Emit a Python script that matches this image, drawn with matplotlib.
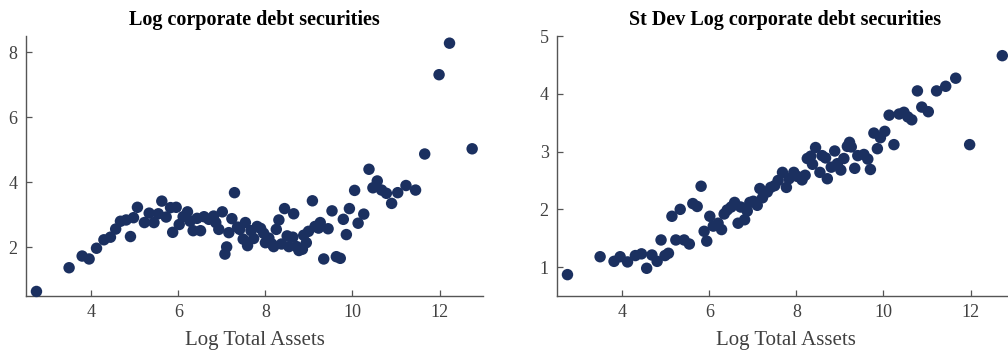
import numpy as np
import matplotlib
matplotlib.use("Agg")
import matplotlib.pyplot as plt

# binned means: log corporate debt securities vs log total assets
x_left = [2.74, 3.49, 3.79, 3.95, 4.12, 4.29, 4.44, 4.56, 4.67, 4.80, 4.90, 4.97,
          5.06, 5.22, 5.33, 5.44, 5.54, 5.62, 5.72, 5.82, 5.87, 5.95, 6.02, 6.11,
          6.21, 6.27, 6.34, 6.43, 6.51, 6.59, 6.70, 6.81, 6.86, 6.93, 7.01, 7.07,
          7.11, 7.16, 7.23, 7.29, 7.36, 7.41, 7.49, 7.54, 7.59, 7.67, 7.73, 7.81,
          7.89, 7.96, 8.00, 8.08, 8.15, 8.19, 8.25, 8.31, 8.37, 8.44, 8.50, 8.54,
          8.63, 8.65, 8.72, 8.77, 8.85, 8.88, 8.94, 8.99, 9.08, 9.14, 9.22, 9.26,
          9.34, 9.44, 9.53, 9.63, 9.72, 9.79, 9.86, 9.93, 10.05, 10.13, 10.26, 10.38,
          10.47, 10.57, 10.67, 10.78, 10.90, 11.04, 11.23, 11.45, 11.66, 11.99, 12.23, 12.75]
y_left = [0.64, 1.37, 1.73, 1.64, 1.97, 2.23, 2.31, 2.56, 2.80, 2.84, 2.33, 2.91,
          3.23, 2.76, 3.05, 2.76, 3.03, 3.42, 2.93, 3.22, 2.46, 3.23, 2.70, 2.94,
          3.09, 2.80, 2.51, 2.89, 2.51, 2.94, 2.86, 2.96, 2.76, 2.55, 3.09, 1.79,
          2.01, 2.45, 2.88, 3.68, 2.62, 2.55, 2.25, 2.76, 2.05, 2.51, 2.27, 2.64,
          2.58, 2.43, 2.14, 2.28, 2.10, 2.02, 2.55, 2.84, 2.10, 3.19, 2.35, 2.02,
          2.31, 3.03, 2.02, 1.90, 1.94, 2.37, 2.14, 2.49, 3.43, 2.64, 2.59, 2.76,
          1.64, 2.57, 3.12, 1.71, 1.66, 2.86, 2.39, 3.19, 3.75, 2.74, 3.02, 4.40,
          3.83, 4.04, 3.76, 3.66, 3.35, 3.68, 3.90, 3.76, 4.87, 7.31, 8.28, 5.03]

# standard deviation of log corporate debt securities
x_right = [2.74, 3.49, 3.81, 3.95, 4.12, 4.30, 4.44, 4.56, 4.68, 4.80, 4.89, 4.98,
           5.06, 5.14, 5.23, 5.33, 5.42, 5.54, 5.62, 5.72, 5.81, 5.88, 5.94, 6.01,
           6.09, 6.20, 6.28, 6.34, 6.41, 6.50, 6.58, 6.66, 6.72, 6.81, 6.87, 6.93,
           7.01, 7.10, 7.16, 7.22, 7.33, 7.41, 7.50, 7.58, 7.68, 7.77, 7.83, 7.94,
           8.02, 8.13, 8.20, 8.25, 8.33, 8.37, 8.44, 8.54, 8.59, 8.67, 8.71, 8.80,
           8.88, 8.94, 9.02, 9.09, 9.17, 9.22, 9.26, 9.34, 9.41, 9.55, 9.64, 9.70,
           9.78, 9.86, 9.93, 10.03, 10.13, 10.24, 10.36, 10.47, 10.56, 10.65, 10.78, 10.88,
           11.03, 11.22, 11.43, 11.66, 11.98, 12.73]
y_right = [0.87, 1.18, 1.10, 1.18, 1.09, 1.20, 1.23, 0.98, 1.21, 1.10, 1.47, 1.20,
           1.24, 1.88, 1.47, 2.00, 1.47, 1.40, 2.10, 2.05, 2.40, 1.62, 1.45, 1.88,
           1.71, 1.76, 1.65, 1.92, 1.99, 2.04, 2.12, 1.76, 2.04, 1.82, 1.97, 2.12,
           2.14, 2.07, 2.36, 2.20, 2.30, 2.38, 2.41, 2.50, 2.64, 2.38, 2.53, 2.64,
           2.57, 2.51, 2.59, 2.88, 2.92, 2.78, 3.07, 2.64, 2.93, 2.89, 2.53, 2.73,
           3.01, 2.79, 2.68, 2.88, 3.09, 3.16, 3.08, 2.71, 2.93, 2.95, 2.87, 2.69,
           3.32, 3.05, 3.24, 3.35, 3.63, 3.12, 3.65, 3.68, 3.60, 3.55, 4.05, 3.77,
           3.69, 4.05, 4.13, 4.27, 3.12, 4.66]

titles = ["Log corporate debt securities", "St Dev Log corporate debt securities"]
xlabel = "Log Total Assets"

plt.rcParams['font.family'] = ['Liberation Serif', 'DejaVu Serif']
dot_color = "#1b3060"
grey = "#404040"

fig = plt.figure(figsize=(10.08, 3.56), dpi=100)
ax1 = fig.add_axes([0.0258, 0.1685, 0.4534, 0.7303])
ax2 = fig.add_axes([0.5526, 0.1685, 0.4534, 0.7303])

panels = [(ax1, x_left, y_left, (0.5, 8.5), [2, 4, 6, 8]),
          (ax2, x_right, y_right, (0.5, 5), [1, 2, 3, 4, 5])]

for i, (ax, xs, ys, ylim, yt) in enumerate(panels):
    ax.scatter(xs, ys, s=68, color=dot_color, edgecolors="none", zorder=3, clip_on=False)
    ax.set_xlim(2.5, 13)
    ax.set_ylim(*ylim)
    ax.set_xticks([4, 6, 8, 10, 12])
    ax.set_yticks(yt)
    ax.spines[['top', 'right']].set_visible(False)
    for s in ['left', 'bottom']:
        ax.spines[s].set_color("#555555")
        ax.spines[s].set_linewidth(1.0)
    ax.tick_params(direction='in', length=4, width=0.9, color="#555555",
                   labelsize=13, labelcolor=grey, pad=6)
    ax.set_xlabel(xlabel, fontsize=15, color=grey, labelpad=7)
    ax.set_title(titles[i], fontsize=14.5, fontweight='bold', pad=8)

fig.savefig("out.png", dpi=100)
